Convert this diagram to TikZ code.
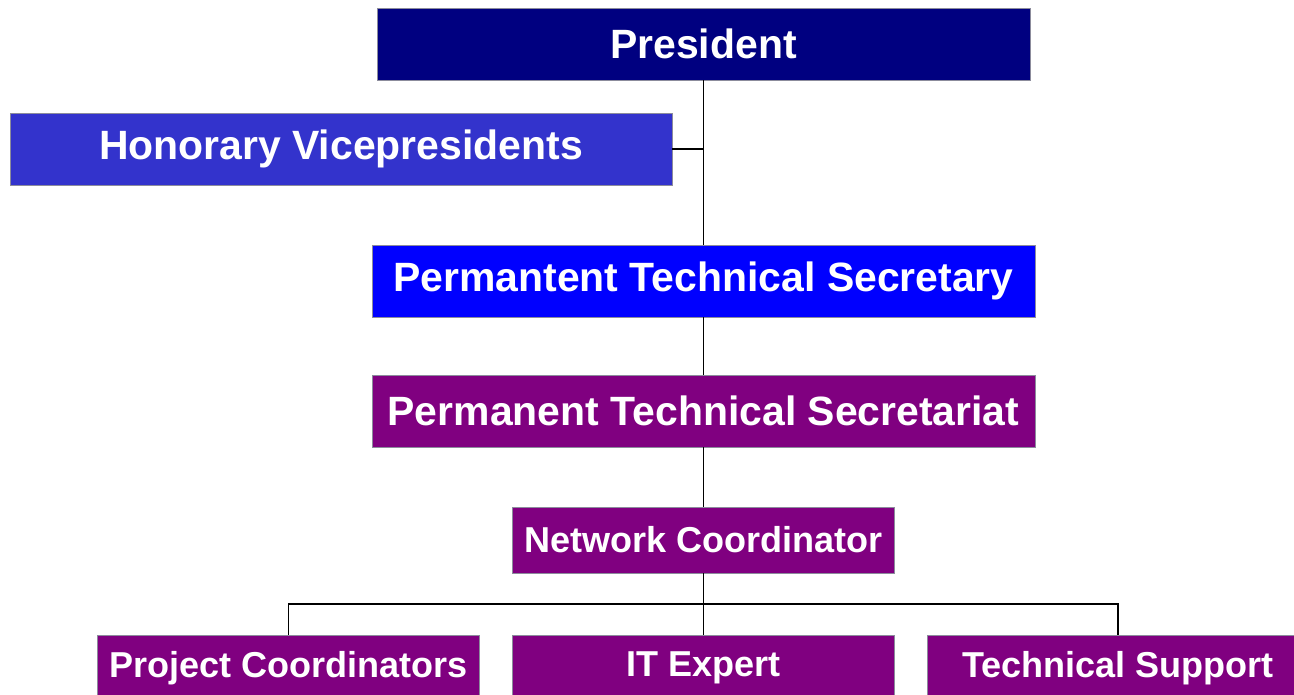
\documentclass[tikz,border=0pt]{standalone}
\usepackage{fontspec}
\setmainfont{Liberation Sans}
\usepackage{tikz}
\usetikzlibrary{positioning,calc}
\definecolor{navyc}{HTML}{000080}
\definecolor{honc}{HTML}{3333CC}
\definecolor{secc}{HTML}{0000FF}
\definecolor{purc}{HTML}{800080}
\definecolor{rimc}{HTML}{8C8C9C}
\tikzset{
  unit/.style={draw=rimc,line width=0.5pt,inner sep=0pt,align=center,text=white,
    font=\bfseries\fontsize{23.3}{28}\selectfont,minimum height=1.44cm},
  unitn/.style={unit,fill=navyc},
  unith/.style={unit,fill=honc},
  units/.style={unit,fill=secc},
  unitp/.style={unit,fill=purc},
  unitq/.style={unitp,font=\bfseries\fontsize{20.5}{24}\selectfont,minimum height=1.32cm,minimum width=7.64cm},
  link/.style={draw=black,line width=0.85pt},
}

\begin{document}
\begin{tikzpicture}[x=0.02cm,y=-0.02cm]
  \clip (0,0) rectangle (1294,694);
  \fill[white] (0,0) rectangle (1294,694);
  % top of the tree
  \node[unitn,minimum width=13.06cm] (pres) at (703.5,44) {President};
  \node[unith,minimum width=13.24cm] (hon) at (341,149) {Honorary Vicepresidents};
  \node[units,minimum width=13.26cm] (sec) at (703.5,281) {Permantent Technical Secretary};
  \node[unitp,minimum width=13.26cm] (sect) at (703.5,411) {Permanent Technical Secretariat};
  \node[unitq] (net) at (703.5,540) {Network Coordinator};
  % bottom row
  \node[unitq] (proj) at (288.5,668) {Project Coordinators};
  \node[unitq] (it) at (703.5,668) {IT Expert};
  \node[unitq] (tech) at (1118,668) {Technical Support};
  \coordinate (bus) at ($(net.south)!.5!(it.north)$);
  \draw[link] (pres) -- (sec);
  \draw[link] (hon.east) -- (hon.east -| pres.south);
  \draw[link] (sec) -- (sect);
  \draw[link] (sect) -- (net);
  \draw[link] (net) -- (it);
  \draw[link] (proj.north) |- (bus) -| (tech.north);
\end{tikzpicture}
\end{document}
